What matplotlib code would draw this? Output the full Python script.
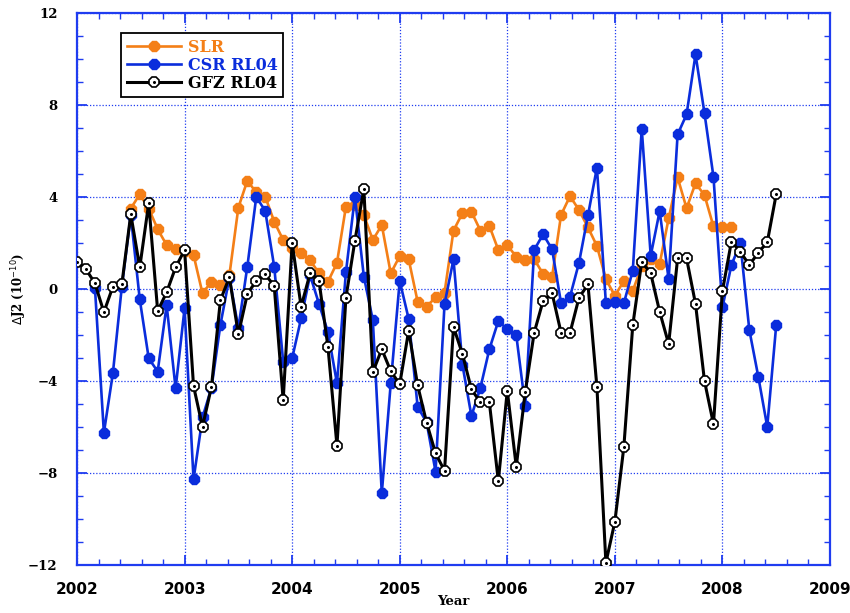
import matplotlib
matplotlib.use("Agg")
import matplotlib.pyplot as plt
from matplotlib.legend_handler import HandlerTuple
from matplotlib.ticker import MultipleLocator
import numpy as np

# Monthly J2 anomalies (units of 1e-10); each series starts at the given decimal year
slr_start = 2002.5
slr_vals = [3.5, 4.12, 3.5, 2.60, 1.91, 1.75,
            1.65, 1.48, -0.19, 0.32, 0.17, 0.6, 3.54, 4.71, 4.2, 4.01, 2.93, 2.13,
            1.8, 1.55, 1.26, 0.68, 0.32, 1.14, 3.58, 3.65, 3.22, 2.13, 2.78, 0.68,
            1.43, 1.29, -0.55, -0.77, -0.36, -0.16, 2.54, 3.30, 3.36, 2.54, 2.74, 1.70,
            1.91, 1.40, 1.25, 1.3, 0.65, 0.54, 3.22, 4.04, 3.43, 2.68, 1.87, 0.43,
            -0.3, 0.35, -0.08, 1.0, 1.3, 1.10, 3.07, 4.85, 3.51, 4.60, 4.08, 2.72,
            2.7, 2.71]

csr_start = 2002 + 2 / 12
csr_vals = [0.05, -6.25, -3.67, 0.1, 3.2, -0.45, -3.01, -3.59, -0.70, -4.32,
            -0.84, -8.28, -5.58, -4.3, -1.55, 0.5, -1.7, 0.97, 4.01, 3.39, 0.97, -3.16,
            -3.01, -1.28, 0.6, -0.65, -1.88, -4.10, 0.73, 4.01, 0.54, -1.35, -8.88, -4.10,
            0.35, -1.30, -5.12, -5.8, -7.94, -0.65, 1.29, -3.30, -5.52, -4.3, -2.62, -1.39,
            -1.75, -2.0, -5.09, 1.70, 2.38, 1.72, -0.62, -0.33, 1.14, 3.2, 5.28, -0.62,
            -0.55, -0.62, 0.8, 6.96, 1.45, 3.39, 0.42, 6.72, 7.59, 10.2, 7.64, 4.88,
            -0.80, 1.04, 1.99, -1.78, -3.81, -5.99, -1.57]

gfz_start = 2002.0
gfz_vals = [1.19, 0.86, 0.25, -1.01, 0.10, 0.20, 3.25, 0.94, 3.73, -0.96, -0.14, 0.94,
            1.70, -4.22, -5.99, -4.25, -0.48, 0.51, -1.97, -0.22, 0.36, 0.64, 0.13, -4.84,
            2.01, -0.77, 0.68, 0.35, -2.54, -6.81, -0.38, 2.10, 4.35, -3.61, -2.62, -3.57,
            -4.14, -1.81, -4.19, -5.81, -7.14, -7.91, -1.65, -2.83, -4.36, -4.93, -4.93, -8.35,
            -4.42, -7.72, -4.49, -1.90, -0.51, -0.19, -1.90, -1.90, -0.38, 0.20, -4.27, -11.9,
            -10.12, -6.88, -1.57, 1.19, 0.68, -0.99, -2.39, 1.33, 1.33, -0.65, -4.0, -5.87,
            -0.09, 2.06, 1.62, 1.04, 1.58, 2.03, 4.12]

series_labels = ["SLR", "CSR RL04", "GFZ RL04"]
year_ticks = [2002, 2003, 2004, 2005, 2006, 2007, 2008, 2009]
value_ticks = [-12, -8, -4, 0, 4, 8, 12]


def monthly(start, vals):
    return start + np.arange(len(vals)) / 12.0


ORANGE = "#f47f17"
BLUE = "#0a2ddc"
AXBLUE = "#1f3cf0"
serif = "DejaVu Serif"
MS = 8.5

fig = plt.figure(figsize=(8.5, 6.13), dpi=100)
ax = fig.add_axes([77 / 850, 1 - 565 / 613, 753 / 850, 552 / 613])

l_slr, = ax.plot(monthly(slr_start, slr_vals), slr_vals, color=ORANGE, lw=1.9,
                 marker="8", ms=MS, mfc=ORANGE, mec=ORANGE, zorder=3)
l_csr, = ax.plot(monthly(csr_start, csr_vals), csr_vals, color=BLUE, lw=1.9,
                 marker="8", ms=MS, mfc=BLUE, mec=BLUE, zorder=4)
l_gfz, = ax.plot(monthly(gfz_start, gfz_vals), gfz_vals, color="black", lw=2.2,
                 marker="8", ms=MS, mfc="white", mec="black", mew=1.2, zorder=5)
l_dot, = ax.plot(monthly(gfz_start, gfz_vals), gfz_vals, ls="none", marker="o",
                 ms=1.2, mfc="black", mec="black", zorder=6)

ax.set_xlim(year_ticks[0], year_ticks[-1])
ax.set_ylim(value_ticks[0], value_ticks[-1])
ax.set_xticks(year_ticks)
ax.set_yticks(value_ticks)
ax.xaxis.set_minor_locator(MultipleLocator(0.2))
ax.yaxis.set_minor_locator(MultipleLocator(1))

ax.grid(True, which="major", color=AXBLUE, ls=(0, (1, 1.5)), lw=0.9)
for s in ax.spines.values():
    s.set_color(AXBLUE)
    s.set_linewidth(1.6)

ax.tick_params(which="both", direction="in", top=True, right=True, color=AXBLUE)
ax.tick_params(which="major", length=7, width=1.3)
ax.tick_params(which="minor", length=4, width=1.0)
ax.tick_params(axis="x", pad=12)
ax.tick_params(axis="y", pad=14)

for lab in ax.get_xticklabels():
    lab.set_fontfamily("DejaVu Sans")
    lab.set_fontweight("bold")
    lab.set_fontsize(11)
for lab in ax.get_yticklabels():
    lab.set_fontfamily(serif)
    lab.set_fontweight("bold")
    lab.set_fontsize(9.5)

ax.set_xlabel("Year", fontfamily=serif, fontweight="bold", fontsize=9.5, labelpad=-1)
ax.set_ylabel(r"$\Delta$J2 (10$^{-10}$)", fontfamily=serif, fontweight="bold",
              fontsize=8.5, labelpad=-1)

leg = ax.legend([l_slr, l_csr, (l_gfz, l_dot)], series_labels,
                handler_map={tuple: HandlerTuple(ndivide=1)},
                loc="upper left", bbox_to_anchor=(0.059, 0.963), borderaxespad=0,
                numpoints=1, handlelength=3.4, handletextpad=0.4,
                labelspacing=0.05, borderpad=0.35, fancybox=False,
                framealpha=1, edgecolor="black",
                prop={"family": serif, "weight": "bold", "size": 11.5})
leg.get_frame().set_linewidth(1.3)
for txt, col in zip(leg.get_texts(), [ORANGE, BLUE, "black"]):
    txt.set_color(col)

fig.savefig("out.png", dpi=100)
